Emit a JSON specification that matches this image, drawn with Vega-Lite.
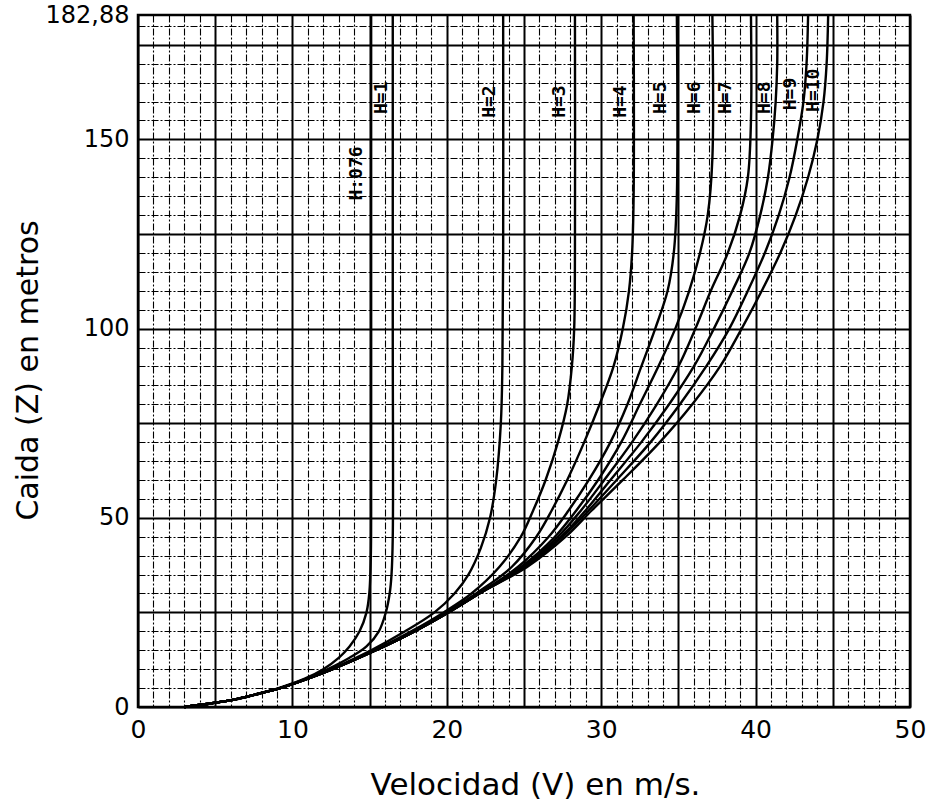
{
  "$schema": "https://vega.github.io/schema/vega-lite/v6.json",
  "width": 772,
  "height": 692,
  "autosize": {"type": "none"},
  "padding": {"left": 138, "top": 15, "right": 24, "bottom": 93},
  "background": "white",
  "config": {
    "view": {"stroke": "black", "strokeWidth": 2.5},
    "font": "DejaVu Sans"
  },
  "datasets": {
    "curves": [
      {"h":"0.76","z":0,"v":3.0},{"h":"0.76","z":1,"v":4.8},{"h":"0.76","z":2,"v":6.3},{"h":"0.76","z":3.5,"v":7.8},{"h":"0.76","z":5,"v":9.1},{"h":"0.76","z":7.5,"v":10.8},{"h":"0.76","z":10,"v":12.0},{"h":"0.76","z":13,"v":13.0},{"h":"0.76","z":16,"v":13.7},{"h":"0.76","z":20,"v":14.35},{"h":"0.76","z":25,"v":14.8},{"h":"0.76","z":30,"v":14.98},{"h":"0.76","z":40,"v":15.08},{"h":"0.76","z":60,"v":15.1},{"h":"0.76","z":120,"v":15.1},{"h":"0.76","z":182.88,"v":15.1},
      {"h":"1","z":0,"v":3.0},{"h":"1","z":1,"v":4.8},{"h":"1","z":2,"v":6.3},{"h":"1","z":3.5,"v":7.8},{"h":"1","z":5,"v":9.2},{"h":"1","z":7.5,"v":10.9},{"h":"1","z":10,"v":12.3},{"h":"1","z":13,"v":13.7},{"h":"1","z":16,"v":14.8},{"h":"1","z":20,"v":15.6},{"h":"1","z":25,"v":16.05},{"h":"1","z":30,"v":16.3},{"h":"1","z":35,"v":16.42},{"h":"1","z":45,"v":16.5},{"h":"1","z":100,"v":16.5},{"h":"1","z":182.88,"v":16.5},
      {"h":"2","z":0,"v":3.0},{"h":"2","z":1,"v":4.8},{"h":"2","z":2,"v":6.3},{"h":"2","z":3.5,"v":7.8},{"h":"2","z":5,"v":9.2},{"h":"2","z":7.5,"v":11.0},{"h":"2","z":10,"v":12.5},{"h":"2","z":15,"v":15.1},{"h":"2","z":20,"v":17.3},{"h":"2","z":25,"v":19.2},{"h":"2","z":30,"v":20.5},{"h":"2","z":35,"v":21.4},{"h":"2","z":42,"v":22.2},{"h":"2","z":50,"v":22.8},{"h":"2","z":60,"v":23.2},{"h":"2","z":75,"v":23.5},{"h":"2","z":90,"v":23.6},{"h":"2","z":120,"v":23.65},{"h":"2","z":182.88,"v":23.65},
      {"h":"3","z":0,"v":3.0},{"h":"3","z":1,"v":4.8},{"h":"3","z":2,"v":6.3},{"h":"3","z":3.5,"v":7.8},{"h":"3","z":5,"v":9.2},{"h":"3","z":7.5,"v":11.0},{"h":"3","z":10,"v":12.6},{"h":"3","z":15,"v":15.3},{"h":"3","z":20,"v":17.7},{"h":"3","z":25,"v":19.8},{"h":"3","z":30,"v":21.6},{"h":"3","z":37,"v":23.4},{"h":"3","z":45,"v":24.8},{"h":"3","z":52,"v":25.6},{"h":"3","z":60,"v":26.4},{"h":"3","z":70,"v":27.2},{"h":"3","z":80,"v":27.8},{"h":"3","z":90,"v":28.1},{"h":"3","z":100,"v":28.25},{"h":"3","z":120,"v":28.3},{"h":"3","z":182.88,"v":28.3},
      {"h":"4","z":0,"v":3.0},{"h":"4","z":1,"v":4.8},{"h":"4","z":2,"v":6.3},{"h":"4","z":3.5,"v":7.8},{"h":"4","z":5,"v":9.2},{"h":"4","z":7.5,"v":11.0},{"h":"4","z":10,"v":12.6},{"h":"4","z":15,"v":15.4},{"h":"4","z":20,"v":17.8},{"h":"4","z":25,"v":20.0},{"h":"4","z":30,"v":21.9},{"h":"4","z":37,"v":24.2},{"h":"4","z":45,"v":25.8},{"h":"4","z":52,"v":26.8},{"h":"4","z":60,"v":27.8},{"h":"4","z":70,"v":28.9},{"h":"4","z":80,"v":29.9},{"h":"4","z":90,"v":30.8},{"h":"4","z":100,"v":31.4},{"h":"4","z":110,"v":31.8},{"h":"4","z":120,"v":32.0},{"h":"4","z":135,"v":32.1},{"h":"4","z":182.88,"v":32.1},
      {"h":"5","z":0,"v":3.0},{"h":"5","z":1,"v":4.8},{"h":"5","z":2,"v":6.3},{"h":"5","z":3.5,"v":7.8},{"h":"5","z":5,"v":9.2},{"h":"5","z":7.5,"v":11.0},{"h":"5","z":10,"v":12.6},{"h":"5","z":15,"v":15.4},{"h":"5","z":20,"v":17.9},{"h":"5","z":25,"v":20.1},{"h":"5","z":30,"v":22.1},{"h":"5","z":37,"v":24.6},{"h":"5","z":45,"v":26.6},{"h":"5","z":52,"v":27.9},{"h":"5","z":60,"v":29.2},{"h":"5","z":70,"v":30.6},{"h":"5","z":80,"v":31.7},{"h":"5","z":90,"v":32.6},{"h":"5","z":100,"v":33.5},{"h":"5","z":110,"v":34.3},{"h":"5","z":120,"v":34.7},{"h":"5","z":135,"v":34.9},{"h":"5","z":182.88,"v":34.9},
      {"h":"6","z":0,"v":3.0},{"h":"6","z":1,"v":4.8},{"h":"6","z":2,"v":6.3},{"h":"6","z":3.5,"v":7.8},{"h":"6","z":5,"v":9.2},{"h":"6","z":7.5,"v":11.0},{"h":"6","z":10,"v":12.6},{"h":"6","z":15,"v":15.4},{"h":"6","z":20,"v":17.9},{"h":"6","z":25,"v":20.1},{"h":"6","z":30,"v":22.1},{"h":"6","z":37,"v":24.8},{"h":"6","z":45,"v":27.0},{"h":"6","z":52,"v":28.4},{"h":"6","z":60,"v":29.8},{"h":"6","z":70,"v":31.3},{"h":"6","z":80,"v":32.5},{"h":"6","z":90,"v":33.7},{"h":"6","z":100,"v":34.8},{"h":"6","z":110,"v":35.7},{"h":"6","z":120,"v":36.4},{"h":"6","z":130,"v":36.9},{"h":"6","z":145,"v":37.2},{"h":"6","z":182.88,"v":37.2},
      {"h":"7","z":0,"v":3.0},{"h":"7","z":1,"v":4.8},{"h":"7","z":2,"v":6.3},{"h":"7","z":3.5,"v":7.8},{"h":"7","z":5,"v":9.2},{"h":"7","z":7.5,"v":11.0},{"h":"7","z":10,"v":12.6},{"h":"7","z":15,"v":15.4},{"h":"7","z":20,"v":17.9},{"h":"7","z":25,"v":20.1},{"h":"7","z":30,"v":22.1},{"h":"7","z":37,"v":24.9},{"h":"7","z":45,"v":27.2},{"h":"7","z":52,"v":28.7},{"h":"7","z":60,"v":30.2},{"h":"7","z":70,"v":32.0},{"h":"7","z":80,"v":33.6},{"h":"7","z":90,"v":35.0},{"h":"7","z":100,"v":36.1},{"h":"7","z":110,"v":37.1},{"h":"7","z":120,"v":38.2},{"h":"7","z":130,"v":39.0},{"h":"7","z":140,"v":39.5},{"h":"7","z":155,"v":39.7},{"h":"7","z":182.88,"v":39.7},
      {"h":"8","z":0,"v":3.0},{"h":"8","z":1,"v":4.8},{"h":"8","z":2,"v":6.3},{"h":"8","z":3.5,"v":7.8},{"h":"8","z":5,"v":9.2},{"h":"8","z":7.5,"v":11.0},{"h":"8","z":10,"v":12.6},{"h":"8","z":15,"v":15.4},{"h":"8","z":20,"v":17.9},{"h":"8","z":25,"v":20.1},{"h":"8","z":30,"v":22.1},{"h":"8","z":37,"v":25.0},{"h":"8","z":45,"v":27.4},{"h":"8","z":52,"v":29.0},{"h":"8","z":60,"v":30.6},{"h":"8","z":70,"v":32.6},{"h":"8","z":80,"v":34.4},{"h":"8","z":90,"v":36.0},{"h":"8","z":100,"v":37.3},{"h":"8","z":110,"v":38.5},{"h":"8","z":120,"v":39.6},{"h":"8","z":130,"v":40.3},{"h":"8","z":140,"v":40.8},{"h":"8","z":150,"v":41.1},{"h":"8","z":160,"v":41.3},{"h":"8","z":170,"v":41.4},{"h":"8","z":182.88,"v":41.4},
      {"h":"9","z":0,"v":3.0},{"h":"9","z":1,"v":4.8},{"h":"9","z":2,"v":6.3},{"h":"9","z":3.5,"v":7.8},{"h":"9","z":5,"v":9.2},{"h":"9","z":7.5,"v":11.0},{"h":"9","z":10,"v":12.6},{"h":"9","z":15,"v":15.4},{"h":"9","z":20,"v":17.9},{"h":"9","z":25,"v":20.1},{"h":"9","z":30,"v":22.1},{"h":"9","z":37,"v":25.1},{"h":"9","z":45,"v":27.5},{"h":"9","z":52,"v":29.2},{"h":"9","z":60,"v":31.0},{"h":"9","z":70,"v":33.2},{"h":"9","z":80,"v":35.1},{"h":"9","z":90,"v":36.8},{"h":"9","z":100,"v":38.3},{"h":"9","z":110,"v":39.5},{"h":"9","z":120,"v":40.6},{"h":"9","z":130,"v":41.5},{"h":"9","z":140,"v":42.2},{"h":"9","z":150,"v":42.7},{"h":"9","z":160,"v":43.1},{"h":"9","z":170,"v":43.3},{"h":"9","z":182.88,"v":43.4},
      {"h":"10","z":0,"v":3.0},{"h":"10","z":1,"v":4.8},{"h":"10","z":2,"v":6.3},{"h":"10","z":3.5,"v":7.8},{"h":"10","z":5,"v":9.2},{"h":"10","z":7.5,"v":11.0},{"h":"10","z":10,"v":12.6},{"h":"10","z":15,"v":15.4},{"h":"10","z":20,"v":17.9},{"h":"10","z":25,"v":20.1},{"h":"10","z":30,"v":22.1},{"h":"10","z":37,"v":25.2},{"h":"10","z":45,"v":27.7},{"h":"10","z":52,"v":29.4},{"h":"10","z":60,"v":31.4},{"h":"10","z":70,"v":33.8},{"h":"10","z":80,"v":35.9},{"h":"10","z":90,"v":37.7},{"h":"10","z":100,"v":39.1},{"h":"10","z":110,"v":40.4},{"h":"10","z":120,"v":41.6},{"h":"10","z":130,"v":42.6},{"h":"10","z":140,"v":43.4},{"h":"10","z":150,"v":44.0},{"h":"10","z":160,"v":44.4},{"h":"10","z":170,"v":44.6},{"h":"10","z":182.88,"v":44.7}
    ],
    "labels": [
      {"label":"H:076","v":14.2,"z":141},
      {"label":"H=1","v":15.8,"z":161},
      {"label":"H=2","v":22.8,"z":160},
      {"label":"H=3","v":27.3,"z":160},
      {"label":"H=4","v":31.3,"z":160},
      {"label":"H=5","v":33.9,"z":161},
      {"label":"H=6","v":36.1,"z":161},
      {"label":"H=7","v":38.1,"z":161},
      {"label":"H=8","v":40.6,"z":161},
      {"label":"H=9","v":42.3,"z":162},
      {"label":"H=10","v":43.8,"z":163}
    ]
  },
  "encoding": {
    "x": {
      "field": "v", "type": "quantitative",
      "scale": {"domain": [0, 50], "nice": false, "zero": false},
      "axis": {
        "values": [0,1,2,3,4,5,6,7,8,9,10,11,12,13,14,15,16,17,18,19,20,21,22,23,24,25,26,27,28,29,30,31,32,33,34,35,36,37,38,39,40,41,42,43,44,45,46,47,48,49,50],
        "grid": true,
        "gridColor": "black",
        "gridOpacity": 1,
        "gridWidth": {"condition": {"test": "datum.value % 5 === 0", "value": 2}, "value": 1.1},
        "gridDash": {"condition": {"test": "datum.value % 5 === 0", "value": []}, "value": [7, 2, 2, 2]},
        "ticks": false,
        "domain": false,
        "labelExpr": "datum.value % 10 === 0 ? datum.label : ''",
        "labelFontSize": 25,
        "labelColor": "black",
        "labelPadding": 10,
        "labelOverlap": false,
        "labelFlush": false,
        "title": "Velocidad (V) en m/s.",
        "titleFontSize": 31,
        "titleFontWeight": "normal",
        "titleColor": "black",
        "titleX": 397,
        "titleY": 78,
        "titleAlign": "center",
        "titleBaseline": "middle"
      }
    },
    "y": {
      "field": "z", "type": "quantitative",
      "scale": {"domain": [0, 182.88], "nice": false, "zero": false},
      "axis": {
        "values": [0,5,10,15,20,25,30,35,40,45,50,55,60,65,70,75,80,85,90,95,100,105,110,115,120,125,130,135,140,145,150,155,160,165,170,175,180,182.88],
        "grid": true,
        "gridColor": "black",
        "gridOpacity": 1,
        "gridWidth": {"condition": {"test": "datum.value % 25 === 0", "value": 2}, "value": 1.1},
        "gridDash": {"condition": {"test": "datum.value % 25 === 0", "value": []}, "value": [7, 2, 2, 2]},
        "ticks": false,
        "domain": false,
        "labelExpr": "datum.value === 182.88 ? '182,88' : (datum.value % 50 === 0 ? datum.label : '')",
        "labelFontSize": 24,
        "labelColor": "black",
        "labelPadding": 9,
        "labelOverlap": false,
        "labelFlush": false,
        "title": "Caida (Z) en metros",
        "titleFontSize": 30,
        "titleFontWeight": "normal",
        "titleColor": "black",
        "titleAngle": 270,
        "titleX": -110,
        "titleY": 355,
        "titleAlign": "center",
        "titleBaseline": "middle"
      }
    }
  },
  "layer": [
    {
      "data": {"name": "curves"},
      "mark": {"type": "line", "color": "black", "strokeWidth": 2.4, "interpolate": "catmull-rom"},
      "encoding": {
        "detail": {"field": "h", "type": "nominal"},
        "order": {"field": "z", "type": "quantitative"}
      }
    },
    {
      "data": {"name": "labels"},
      "mark": {"type": "text", "angle": 270, "font": "DejaVu Sans Mono", "fontSize": 18, "fontWeight": "bold", "color": "black", "align": "center", "baseline": "middle"},
      "encoding": {
        "text": {"field": "label", "type": "nominal"}
      }
    }
  ]
}
